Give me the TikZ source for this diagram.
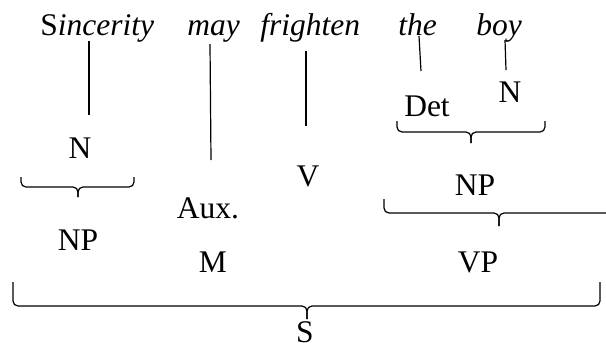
\documentclass[tikz,border=0pt]{standalone}
\usepackage{fontspec}
\setmainfont{Liberation Serif}
\begin{document}
\begin{tikzpicture}[x=0.5pt,y=-0.5pt,
  lbl/.style={inner sep=0pt,font=\fontsize{15.75}{18}\selectfont},
  wrd/.style={inner sep=0pt,anchor=base west,font=\fontsize{15.75}{18}\selectfont\itshape},
  ln/.style={line width=0.6pt},
  br/.style={line width=0.6pt,rounded corners=2.5pt}]
\useasboundingbox (0,0) rectangle (606,343);
% words
\node[wrd] (w1) at (40,35) {{\upshape S}incerity};
\node[wrd] (w2) at (187,35) {may};
\node[wrd] (w3) at (260,35) {frighten};
\node[wrd] (w4) at (398,35) {the};
\node[wrd] (w5) at (476,35) {boy};
% category labels
\node[lbl] (n1) at (80,148) {N};
\node[lbl] (np1) at (78,240) {NP};
\node[lbl] (aux) at (208,208) {Aux.};
\node[lbl] (m) at (213,262) {M};
\node[lbl] (v) at (308,176) {V};
\node[lbl] (det) at (427,106) {Det};
\node[lbl] (n2) at (510,92) {N};
\node[lbl] (np2) at (475,185) {NP};
\node[lbl] (vp) at (478,262) {VP};
\node[lbl] (s) at (305,332) {S};
% line end points
\coordinate (a1) at (89,41);  \coordinate (a2) at (89,115);
\coordinate (b1) at (210,44); \coordinate (b2) at (211,160);
\coordinate (c1) at (306,51); \coordinate (c2) at (306,126);
\coordinate (d1) at (419,36); \coordinate (d2) at (421,71);
\coordinate (e1) at (505,40); \coordinate (e2) at (506,70);
\draw[ln] (a1) -- (a2);
\draw[ln] (b1) -- (b2);
\draw[ln] (c1) -- (c2);
\draw[ln] (d1) -- (d2);
\draw[ln] (e1) -- (e2);
% braces
\newcommand\hbr[6]{%
  \draw[br] (#1,#4) -- (#1,#5) -- (#3,#5) -- (#3,#6);
  \draw[br] (#2,#4) -- (#2,#5) -- (#3,#5) -- (#3,#6);}
\hbr{21}{134}{78}{177}{187}{197}
\hbr{397}{545}{471}{121}{132}{143}
\draw[br] (384,199) -- (384,213) -- (499,213) -- (499,226);
\draw[br] (606,213) -- (499,213) -- (499,226);
\hbr{13}{600}{307}{282}{306}{319}
\end{tikzpicture}
\end{document}
